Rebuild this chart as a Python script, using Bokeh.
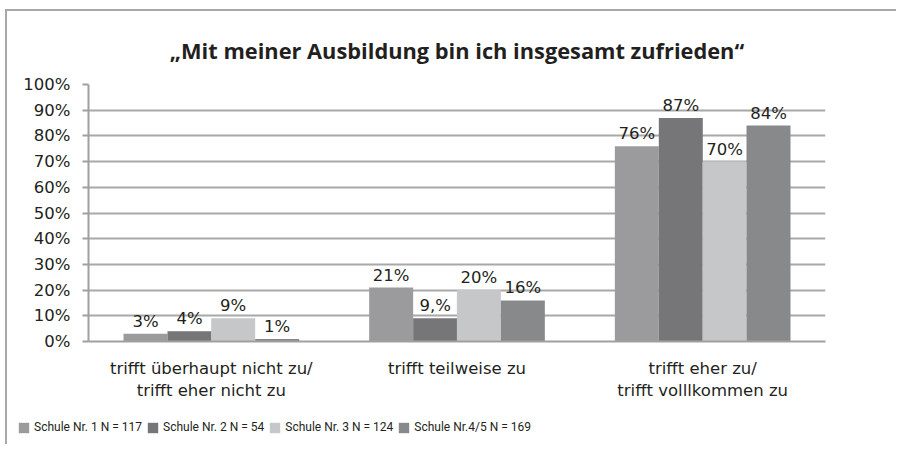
from bokeh.plotting import figure
from bokeh.models import ColumnDataSource, FactorRange, Legend, LegendItem, PrintfTickFormatter, FixedTicker, Range1d
from bokeh.transform import dodge
from bokeh.embed import file_html
from bokeh.resources import INLINE

categories = ["trifft überhaupt nicht zu/\ntrifft eher nicht zu", "trifft teilweise zu", "trifft eher zu/\ntrifft volllkommen zu"]
series = ["Schule Nr. 1 N = 117", "Schule Nr. 2 N = 54", "Schule Nr. 3 N = 124", "Schule Nr.4/5 N = 169"]
s1 = [3, 21, 76]
s2 = [4, 9, 87]
s3 = [9, 20, 70]
s4 = [1, 16, 84]
l1 = ["3%", "21%", "76%"]
l2 = ["4%", "9,%", "87%"]
l3 = ["9%", "20%", "70%"]
l4 = ["1%", "16%", "84%"]
colors = ["#9b9b9d", "#767678", "#c6c7c9", "#88898b"]
yticks = list(range(0, 101, 10))

FONT = "DejaVu Sans"
TFONT = "Open Sans"
LFONT = "Roboto"
TXT = "#231f20"

p = figure(x_range=FactorRange(*categories), y_range=Range1d(0, 100),
           frame_width=737, frame_height=257, output_backend="svg", toolbar_location=None,
           min_border_left=81, min_border_right=71, min_border_top=73, min_border_bottom=63)
p.styles = {"border-top": "2px solid #a8a8a8", "border-left": "2px solid #a8a8a8",
            "margin-top": "9px", "margin-left": "5px"}

src = ColumnDataSource(dict(cat=categories, s1=s1, s2=s2, s3=s3, s4=s4, l1=l1, l2=l2, l3=l3, l4=l4))
offsets = [-0.268, -0.089, 0.089, 0.268]
vals = ["s1", "s2", "s3", "s4"]
labs = ["l1", "l2", "l3", "l4"]

# legend strip below the chart (separate root so its frame spans the full width)
leg = figure(x_range=FactorRange(*categories), y_range=Range1d(200, 300),
             width=889, height=40, min_border=0, output_backend="svg", toolbar_location=None)
leg.styles = {"border-left": "2px solid #a8a8a8", "margin-left": "5px"}
leg.axis.visible = False
leg.grid.visible = False
leg.outline_line_color = None

items = []
for off, v, lab, c, name in zip(offsets, vals, labs, colors, series):
    p.vbar(x=dodge("cat", off, range=p.x_range), top=v, width=0.179, source=src,
           fill_color=c, line_color=None)
    p.text(x=dodge("cat", off, range=p.x_range), y=v, text=lab, source=src,
           text_align="center", text_baseline="bottom", y_offset=-3,
           text_font_size="16.5px", text_font={"value": FONT}, text_color=TXT)
    r = leg.vbar(x=dodge("cat", off, range=leg.x_range), top=v, width=0.179, source=src,
                 fill_color=c, line_color=None)
    items.append(LegendItem(label=name, renderers=[r]))

legend = Legend(items=items, orientation="horizontal", location=(10, 10),
                label_text_font=LFONT, label_text_font_size="12px", label_text_color=TXT,
                glyph_width=13, glyph_height=13, spacing=4, label_standoff=4,
                label_height=13, border_line_color=None, background_fill_alpha=0,
                padding=0, margin=0)
leg.add_layout(legend, "center")

p.title.text = "„Mit meiner Ausbildung bin ich insgesamt zufrieden\u201c"
p.title.align = "center"
p.title.text_font = TFONT
p.title.text_font_size = "21.8px"
p.title.text_font_style = "bold"
p.title.text_color = TXT
p.title.standoff = 40

p.yaxis.ticker = FixedTicker(ticks=yticks)
p.yaxis.formatter = PrintfTickFormatter(format="%d%%")
p.yaxis.major_label_text_font = FONT
p.yaxis.major_label_text_font_size = "16.5px"
p.yaxis.major_label_text_color = TXT
p.yaxis.axis_line_color = "#a0a0a0"
p.yaxis.axis_line_width = 2
p.yaxis.major_tick_line_color = "#a0a0a0"
p.yaxis.major_tick_line_width = 2
p.yaxis.major_tick_out = 6
p.yaxis.major_tick_in = 0
p.yaxis.minor_tick_line_color = None
p.yaxis.major_label_standoff = 12

p.xaxis.major_label_text_font = FONT
p.xaxis.major_label_text_font_size = "16.5px"
p.xaxis.major_label_text_color = TXT
p.xaxis.axis_line_color = "#a0a0a0"
p.xaxis.axis_line_width = 2
p.xaxis.major_tick_line_color = None
p.xaxis.major_label_standoff = 11

p.xgrid.grid_line_color = None
p.ygrid.grid_line_color = "#a8a8a8"
p.ygrid.grid_line_width = 2
p.outline_line_color = None
p.x_range.range_padding = 0
p.x_range.group_padding = 0
leg.x_range.range_padding = 0

open("out.html", "w").write(file_html([p, leg], INLINE))
